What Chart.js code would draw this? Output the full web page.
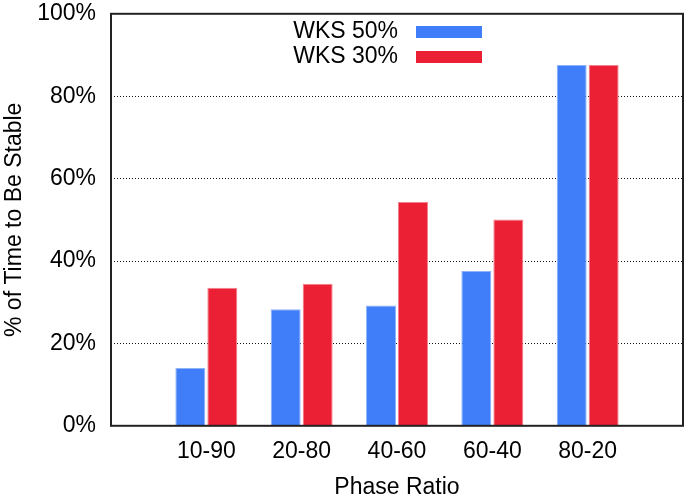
<!DOCTYPE html>
<html lang="en">
  <head>
    <title>Phase Ratio</title>
    <meta charset="utf-8">
    <script src="https://cdn.jsdelivr.net/npm/chart.js@4.4.0/dist/chart.umd.min.js"></script>
    <style>
      body { margin: 0; background: #fff; }
    </style>
  </head>
  <body>
    <div style="position: relative; width: 685px; height: 501px;">
        <canvas id="myChart1"></canvas>
    </div>
  <script>
    var categories = ['10-90', '20-80', '40-60', '60-40', '80-20'];
    var wks50 = [14.0, 28.3, 29.2, 37.6, 87.6];
    var wks30 = [33.5, 34.5, 54.3, 50.1, 87.6];
    var yTicks = [0, 20, 40, 60, 80, 100];

    // gnuplot style: an empty slot on each side of the groups
    var labels = [''].concat(categories, ['']);
    function pad(arr) { return [null].concat(arr, [null]); }

    var font = 'Liberation Sans, Arial, Helvetica, sans-serif';
    var fsize = 23;

    var frameAndKey = {
        id: 'frameAndKey',
        afterDraw: function(chart) {
            var ctx = chart.ctx, a = chart.chartArea;
            ctx.save();
            ctx.strokeStyle = '#222';
            ctx.lineWidth = 2;
            ctx.strokeRect(a.left, a.top, a.right - a.left, a.bottom - a.top);
            // key: text then sample, like gnuplot
            ctx.font = fsize + 'px ' + font;
            ctx.textAlign = 'right';
            ctx.textBaseline = 'middle';
            chart.data.datasets.forEach(function(ds, i) {
                var y = 32 + i * 25;
                ctx.fillStyle = '#000';
                ctx.fillText(ds.label, 398, y);
                ctx.fillStyle = ds.backgroundColor;
                ctx.fillRect(416, y - 6, 66, 12);
            });
            ctx.restore();
        }
    };

    var ctx = document.getElementById("myChart1").getContext('2d');
    var myChart1 = new Chart(ctx, {
        type: 'bar',
        data: {
            labels: labels,
            datasets: [{
                label: 'WKS 50%',
                data: pad(wks50),
                backgroundColor: '#3f7ef8',
                borderColor: '#8fb3fb',
                borderWidth: 1,
                categoryPercentage: 0.671,
                barPercentage: 0.9375
            }, {
                label: 'WKS 30%',
                data: pad(wks30),
                backgroundColor: '#eb2035',
                borderColor: '#f3808c',
                borderWidth: 1,
                categoryPercentage: 0.671,
                barPercentage: 0.9375
            }]
        },
        options: {
            responsive: true,
            maintainAspectRatio: false,
            animation: false,
            layout: { padding: { top: 0, right: 2, left: 1, bottom: 0 } },
            plugins: {
                legend: { display: false },
                tooltip: { enabled: false }
            },
            scales: {
                x: {
                    offset: false,
                    grid: { display: false, drawTicks: true, tickLength: 12, tickColor: 'rgba(0,0,0,0)' },
                    border: { display: false },
                    ticks: { color: '#000', font: { family: font, size: fsize }, padding: 0, maxRotation: 0, autoSkip: false },
                    title: { display: true, text: 'Phase Ratio', color: '#000', font: { family: font, size: fsize }, padding: { top: 8, bottom: 0 } }
                },
                y: {
                    min: 0,
                    max: 100,
                    afterBuildTicks: function(axis) {
                        axis.ticks = yTicks.map(function(v) { return { value: v }; });
                    },
                    afterFit: function(axis) { axis.width = 110; },
                    grid: {
                        color: function(c) { return (c.tick.value === 0 || c.tick.value === 100) ? 'rgba(0,0,0,0)' : '#111'; },
                        lineWidth: 1,
                        drawTicks: true,
                        tickLength: 15,
                        tickColor: 'rgba(0,0,0,0)'
                    },
                    border: { display: false, dash: [1, 2] },
                    ticks: {
                        color: '#000',
                        font: { family: font, size: fsize },
                        padding: 0,
                        callback: function(v) { return v + '%'; }
                    },
                    title: { display: true, text: '% of Time to Be Stable', color: '#000', font: { family: font, size: fsize }, padding: { top: 0, bottom: 8 } }
                }
            }
        },
        plugins: [frameAndKey]
    });
  </script>
  </body>
</html>
